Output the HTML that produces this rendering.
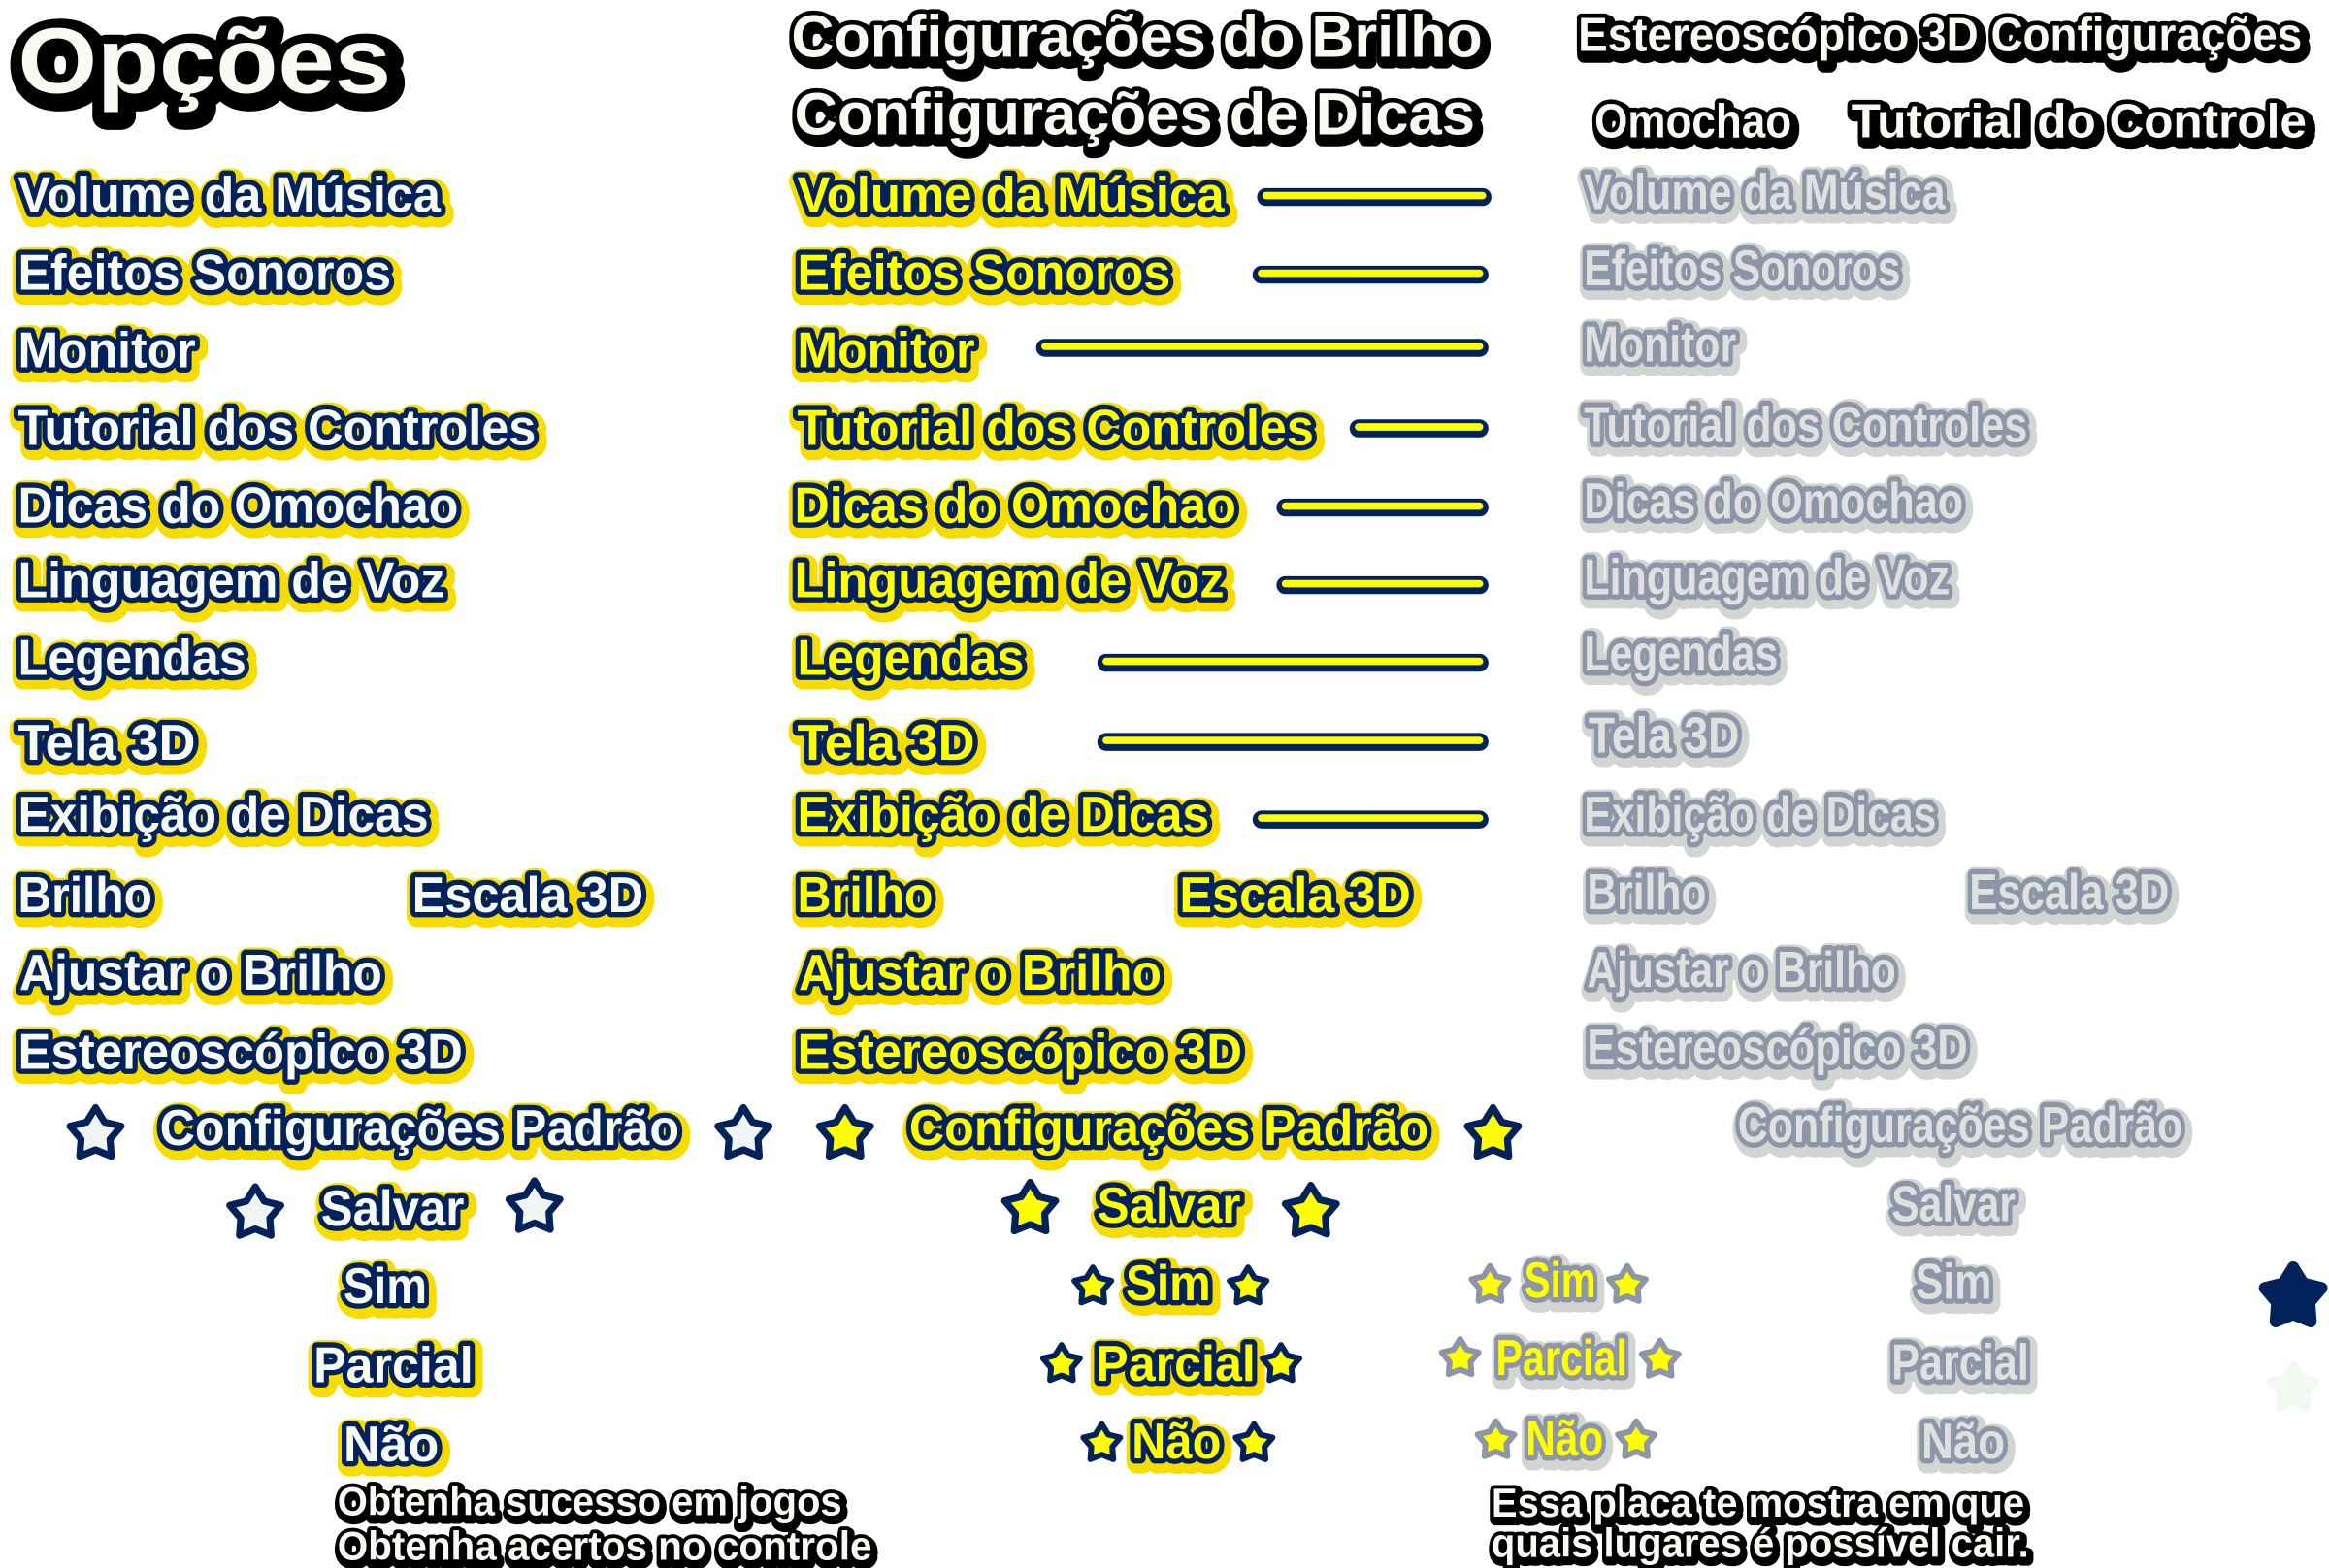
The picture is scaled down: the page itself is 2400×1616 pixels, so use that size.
<!DOCTYPE html>
<html><head><meta charset="utf-8"><style>
html,body{margin:0;padding:0;background:#fff;width:2400px;height:1616px;overflow:hidden}
svg{display:block}
text{font-family:"Liberation Sans",sans-serif;font-weight:bold;stroke-linejoin:round;paint-order:stroke}
.o{stroke-width:15px;transform:translate(1.5px,2.5px)}
.i{stroke-width:7px}
.Y.o,.M.o{fill:#f7dc00;stroke:#f7dc00}
.Y.i{fill:#f7fbf3;stroke:#03215a}
.M.i{fill:#ffff00;stroke:#03215a}
.G.o,.H.o{fill:#d3d5d2;stroke:#d3d5d2}
.G.i{fill:#e0e0e0;stroke:#8d96a8}
.H.i{fill:#ffff00;stroke:#8d96a8}
.K.o{fill:#000;stroke:#000;stroke-width:10px;transform:translate(2px,3px)}
.K.i{fill:#f7fbf3;stroke:#000;stroke-width:6px}
.L{font-size:34px}
.s .o{stroke-width:8px;transform:translate(1px,2px)}
.s .i{stroke-width:5px}
</style></head><body>
<svg width="2400" height="1616" viewBox="0 0 1560 1050.4" xmlns="http://www.w3.org/2000/svg">
<defs>
<path id="st" d="M0,-1 L0.335,-0.46 L0.951,-0.309 L0.54,0.175 L0.588,0.809 L0,0.57 L-0.588,0.809 L-0.54,0.175 L-0.951,-0.309 L-0.335,-0.46 Z"/>
</defs>

<!-- Titles -->
<text class="K o" x="12" y="62" font-size="62" textLength="250" lengthAdjust="spacingAndGlyphs" style="stroke-width:18px">Opções</text>
<text class="K i" x="12" y="62" font-size="62" textLength="250" lengthAdjust="spacingAndGlyphs" style="stroke-width:9px">Opções</text>

<text class="K o" x="530" y="38" font-size="40" textLength="463" lengthAdjust="spacingAndGlyphs">Configurações do Brilho</text>
<text class="K i" x="530" y="38" font-size="40" textLength="463" lengthAdjust="spacingAndGlyphs">Configurações do Brilho</text>
<text class="K o" x="532" y="90" font-size="40" textLength="456" lengthAdjust="spacingAndGlyphs">Configurações de Dicas</text>
<text class="K i" x="532" y="90" font-size="40" textLength="456" lengthAdjust="spacingAndGlyphs">Configurações de Dicas</text>

<text class="K o" x="1057" y="34" font-size="32" textLength="485" lengthAdjust="spacingAndGlyphs">Estereoscópico 3D Configurações</text>
<text class="K i" x="1057" y="34" font-size="32" textLength="485" lengthAdjust="spacingAndGlyphs">Estereoscópico 3D Configurações</text>
<text class="K o" x="1068" y="92" font-size="32" textLength="132" lengthAdjust="spacingAndGlyphs">Omochao</text>
<text class="K i" x="1068" y="92" font-size="32" textLength="132" lengthAdjust="spacingAndGlyphs">Omochao</text>
<text class="K o" x="1240" y="92" font-size="32" textLength="305" lengthAdjust="spacingAndGlyphs">Tutorial do Controle</text>
<text class="K i" x="1240" y="92" font-size="32" textLength="305" lengthAdjust="spacingAndGlyphs">Tutorial do Controle</text>

<!-- Left column -->
<g class="L">
<text class="Y o" x="12" y="142" textLength="283" lengthAdjust="spacingAndGlyphs">Volume da Música</text>
<text class="Y i" x="12" y="142" textLength="283" lengthAdjust="spacingAndGlyphs">Volume da Música</text>
<text class="Y o" x="12" y="194" textLength="250" lengthAdjust="spacingAndGlyphs">Efeitos Sonoros</text>
<text class="Y i" x="12" y="194" textLength="250" lengthAdjust="spacingAndGlyphs">Efeitos Sonoros</text>
<text class="Y o" x="12" y="246" textLength="119" lengthAdjust="spacingAndGlyphs">Monitor</text>
<text class="Y i" x="12" y="246" textLength="119" lengthAdjust="spacingAndGlyphs">Monitor</text>
<text class="Y o" x="12" y="298" textLength="347" lengthAdjust="spacingAndGlyphs">Tutorial dos Controles</text>
<text class="Y i" x="12" y="298" textLength="347" lengthAdjust="spacingAndGlyphs">Tutorial dos Controles</text>
<text class="Y o" x="12" y="350" textLength="295" lengthAdjust="spacingAndGlyphs">Dicas do Omochao</text>
<text class="Y i" x="12" y="350" textLength="295" lengthAdjust="spacingAndGlyphs">Dicas do Omochao</text>
<text class="Y o" x="12" y="400" textLength="286" lengthAdjust="spacingAndGlyphs">Linguagem de Voz</text>
<text class="Y i" x="12" y="400" textLength="286" lengthAdjust="spacingAndGlyphs">Linguagem de Voz</text>
<text class="Y o" x="12" y="452" textLength="153" lengthAdjust="spacingAndGlyphs">Legendas</text>
<text class="Y i" x="12" y="452" textLength="153" lengthAdjust="spacingAndGlyphs">Legendas</text>
<text class="Y o" x="12" y="509" textLength="119" lengthAdjust="spacingAndGlyphs">Tela 3D</text>
<text class="Y i" x="12" y="509" textLength="119" lengthAdjust="spacingAndGlyphs">Tela 3D</text>
<text class="Y o" x="12" y="557" textLength="275" lengthAdjust="spacingAndGlyphs">Exibição de Dicas</text>
<text class="Y i" x="12" y="557" textLength="275" lengthAdjust="spacingAndGlyphs">Exibição de Dicas</text>
<text class="Y o" x="12" y="611" textLength="90" lengthAdjust="spacingAndGlyphs">Brilho</text>
<text class="Y i" x="12" y="611" textLength="90" lengthAdjust="spacingAndGlyphs">Brilho</text>
<text class="Y o" x="276" y="611" textLength="155" lengthAdjust="spacingAndGlyphs">Escala 3D</text>
<text class="Y i" x="276" y="611" textLength="155" lengthAdjust="spacingAndGlyphs">Escala 3D</text>
<text class="Y o" x="13" y="663" textLength="243" lengthAdjust="spacingAndGlyphs">Ajustar o Brilho</text>
<text class="Y i" x="13" y="663" textLength="243" lengthAdjust="spacingAndGlyphs">Ajustar o Brilho</text>
<text class="Y o" x="12" y="716" textLength="298" lengthAdjust="spacingAndGlyphs">Estereoscópico 3D</text>
<text class="Y i" x="12" y="716" textLength="298" lengthAdjust="spacingAndGlyphs">Estereoscópico 3D</text>
<text class="Y o" x="107" y="767" textLength="348" lengthAdjust="spacingAndGlyphs">Configurações Padrão</text>
<text class="Y i" x="107" y="767" textLength="348" lengthAdjust="spacingAndGlyphs">Configurações Padrão</text>
<text class="Y o" x="215" y="821" textLength="96" lengthAdjust="spacingAndGlyphs">Salvar</text>
<text class="Y i" x="215" y="821" textLength="96" lengthAdjust="spacingAndGlyphs">Salvar</text>
<text class="Y o" x="230" y="873" textLength="56" lengthAdjust="spacingAndGlyphs">Sim</text>
<text class="Y i" x="230" y="873" textLength="56" lengthAdjust="spacingAndGlyphs">Sim</text>
<text class="Y o" x="210" y="926" textLength="107" lengthAdjust="spacingAndGlyphs">Parcial</text>
<text class="Y i" x="210" y="926" textLength="107" lengthAdjust="spacingAndGlyphs">Parcial</text>
<text class="Y o" x="230" y="979" textLength="64" lengthAdjust="spacingAndGlyphs">Não</text>
<text class="Y i" x="230" y="979" textLength="64" lengthAdjust="spacingAndGlyphs">Não</text>
</g>
<g fill="#f0f4f2" stroke="#03215a" stroke-width="0.26" stroke-linejoin="round">
<use href="#st" transform="translate(64,760) scale(18)"/>
<use href="#st" transform="translate(498,760) scale(18)"/>
<use href="#st" transform="translate(171,813) scale(18)"/>
<use href="#st" transform="translate(358,809) scale(18)"/>
</g>
<g class="s">
<text class="K o" x="226" y="1015" font-size="27" textLength="338" lengthAdjust="spacingAndGlyphs">Obtenha sucesso em jogos</text>
<text class="K i" x="226" y="1015" font-size="27" textLength="338" lengthAdjust="spacingAndGlyphs">Obtenha sucesso em jogos</text>
<text class="K o" x="226" y="1045" font-size="27" textLength="358" lengthAdjust="spacingAndGlyphs">Obtenha acertos no controle</text>
<text class="K i" x="226" y="1045" font-size="27" textLength="358" lengthAdjust="spacingAndGlyphs">Obtenha acertos no controle</text>
</g>

<!-- Middle column -->
<g class="L">
<text class="M o" x="534" y="142" textLength="286" lengthAdjust="spacingAndGlyphs">Volume da Música</text>
<text class="M i" x="534" y="142" textLength="286" lengthAdjust="spacingAndGlyphs">Volume da Música</text>
<text class="M o" x="534" y="194" textLength="250" lengthAdjust="spacingAndGlyphs">Efeitos Sonoros</text>
<text class="M i" x="534" y="194" textLength="250" lengthAdjust="spacingAndGlyphs">Efeitos Sonoros</text>
<text class="M o" x="534" y="246" textLength="119" lengthAdjust="spacingAndGlyphs">Monitor</text>
<text class="M i" x="534" y="246" textLength="119" lengthAdjust="spacingAndGlyphs">Monitor</text>
<text class="M o" x="534" y="298" textLength="346" lengthAdjust="spacingAndGlyphs">Tutorial dos Controles</text>
<text class="M i" x="534" y="298" textLength="346" lengthAdjust="spacingAndGlyphs">Tutorial dos Controles</text>
<text class="M o" x="532" y="350" textLength="296" lengthAdjust="spacingAndGlyphs">Dicas do Omochao</text>
<text class="M i" x="532" y="350" textLength="296" lengthAdjust="spacingAndGlyphs">Dicas do Omochao</text>
<text class="M o" x="532" y="400" textLength="288" lengthAdjust="spacingAndGlyphs">Linguagem de Voz</text>
<text class="M i" x="532" y="400" textLength="288" lengthAdjust="spacingAndGlyphs">Linguagem de Voz</text>
<text class="M o" x="534" y="452" textLength="152" lengthAdjust="spacingAndGlyphs">Legendas</text>
<text class="M i" x="534" y="452" textLength="152" lengthAdjust="spacingAndGlyphs">Legendas</text>
<text class="M o" x="534" y="509" textLength="119" lengthAdjust="spacingAndGlyphs">Tela 3D</text>
<text class="M i" x="534" y="509" textLength="119" lengthAdjust="spacingAndGlyphs">Tela 3D</text>
<text class="M o" x="534" y="557" textLength="276" lengthAdjust="spacingAndGlyphs">Exibição de Dicas</text>
<text class="M i" x="534" y="557" textLength="276" lengthAdjust="spacingAndGlyphs">Exibição de Dicas</text>
<text class="M o" x="534" y="611" textLength="91" lengthAdjust="spacingAndGlyphs">Brilho</text>
<text class="M i" x="534" y="611" textLength="91" lengthAdjust="spacingAndGlyphs">Brilho</text>
<text class="M o" x="790" y="611" textLength="155" lengthAdjust="spacingAndGlyphs">Escala 3D</text>
<text class="M i" x="790" y="611" textLength="155" lengthAdjust="spacingAndGlyphs">Escala 3D</text>
<text class="M o" x="535" y="663" textLength="243" lengthAdjust="spacingAndGlyphs">Ajustar o Brilho</text>
<text class="M i" x="535" y="663" textLength="243" lengthAdjust="spacingAndGlyphs">Ajustar o Brilho</text>
<text class="M o" x="534" y="716" textLength="298" lengthAdjust="spacingAndGlyphs">Estereoscópico 3D</text>
<text class="M i" x="534" y="716" textLength="298" lengthAdjust="spacingAndGlyphs">Estereoscópico 3D</text>
<text class="M o" x="609" y="767" textLength="348" lengthAdjust="spacingAndGlyphs">Configurações Padrão</text>
<text class="M i" x="609" y="767" textLength="348" lengthAdjust="spacingAndGlyphs">Configurações Padrão</text>
<text class="M o" x="735" y="819" textLength="96" lengthAdjust="spacingAndGlyphs">Salvar</text>
<text class="M i" x="735" y="819" textLength="96" lengthAdjust="spacingAndGlyphs">Salvar</text>
<text class="M o" x="754" y="871" textLength="57" lengthAdjust="spacingAndGlyphs">Sim</text>
<text class="M i" x="754" y="871" textLength="57" lengthAdjust="spacingAndGlyphs">Sim</text>
<text class="M o" x="734" y="925" textLength="107" lengthAdjust="spacingAndGlyphs">Parcial</text>
<text class="M i" x="734" y="925" textLength="107" lengthAdjust="spacingAndGlyphs">Parcial</text>
<text class="M o" x="758" y="977" textLength="60" lengthAdjust="spacingAndGlyphs">Não</text>
<text class="M i" x="758" y="977" textLength="60" lengthAdjust="spacingAndGlyphs">Não</text>
</g>
<!-- bars -->
<g stroke-linecap="round" fill="none">
<g stroke="#03215a" stroke-width="12">
<line x1="848" y1="132" x2="993" y2="132"/>
<line x1="845" y1="184" x2="991" y2="184"/>
<line x1="700" y1="233" x2="991" y2="233"/>
<line x1="910" y1="287" x2="991" y2="287"/>
<line x1="861" y1="340" x2="991" y2="340"/>
<line x1="861" y1="392" x2="991" y2="392"/>
<line x1="741" y1="444" x2="991" y2="444"/>
<line x1="741" y1="497" x2="991" y2="497"/>
<line x1="845" y1="549" x2="991" y2="549"/>
</g>
<g stroke="#ffff00" stroke-width="5">
<line x1="848" y1="131" x2="993" y2="131"/>
<line x1="845" y1="183" x2="991" y2="183"/>
<line x1="700" y1="232" x2="991" y2="232"/>
<line x1="910" y1="286" x2="991" y2="286"/>
<line x1="861" y1="339" x2="991" y2="339"/>
<line x1="861" y1="391" x2="991" y2="391"/>
<line x1="741" y1="443" x2="991" y2="443"/>
<line x1="741" y1="496" x2="991" y2="496"/>
<line x1="845" y1="548" x2="991" y2="548"/>
</g>
</g>
<g fill="#ffff00" stroke="#03215a" stroke-width="0.26" stroke-linejoin="round">
<use href="#st" transform="translate(566,760) scale(18)"/>
<use href="#st" transform="translate(1000,760) scale(18)"/>
<use href="#st" transform="translate(690,810) scale(18)"/>
<use href="#st" transform="translate(878,812) scale(18)"/>
</g>
<g fill="#ffff00" stroke="#03215a" stroke-width="0.3" stroke-linejoin="round">
<use href="#st" transform="translate(732,862) scale(13)"/>
<use href="#st" transform="translate(836,862) scale(13)"/>
<use href="#st" transform="translate(711,914) scale(13)"/>
<use href="#st" transform="translate(858,914) scale(13)"/>
<use href="#st" transform="translate(738,967) scale(13)"/>
<use href="#st" transform="translate(840,967) scale(13)"/>
</g>

<!-- Right gray column -->
<g class="L">
<text class="G o" x="1061" y="140" textLength="242" lengthAdjust="spacingAndGlyphs">Volume da Música</text>
<text class="G i" x="1061" y="140" textLength="242" lengthAdjust="spacingAndGlyphs">Volume da Música</text>
<text class="G o" x="1061" y="191" textLength="212" lengthAdjust="spacingAndGlyphs">Efeitos Sonoros</text>
<text class="G i" x="1061" y="191" textLength="212" lengthAdjust="spacingAndGlyphs">Efeitos Sonoros</text>
<text class="G o" x="1061" y="242" textLength="102" lengthAdjust="spacingAndGlyphs">Monitor</text>
<text class="G i" x="1061" y="242" textLength="102" lengthAdjust="spacingAndGlyphs">Monitor</text>
<text class="G o" x="1061" y="296" textLength="297" lengthAdjust="spacingAndGlyphs">Tutorial dos Controles</text>
<text class="G i" x="1061" y="296" textLength="297" lengthAdjust="spacingAndGlyphs">Tutorial dos Controles</text>
<text class="G o" x="1061" y="347" textLength="254" lengthAdjust="spacingAndGlyphs">Dicas do Omochao</text>
<text class="G i" x="1061" y="347" textLength="254" lengthAdjust="spacingAndGlyphs">Dicas do Omochao</text>
<text class="G o" x="1061" y="398" textLength="245" lengthAdjust="spacingAndGlyphs">Linguagem de Voz</text>
<text class="G i" x="1061" y="398" textLength="245" lengthAdjust="spacingAndGlyphs">Linguagem de Voz</text>
<text class="G o" x="1061" y="449" textLength="130" lengthAdjust="spacingAndGlyphs">Legendas</text>
<text class="G i" x="1061" y="449" textLength="130" lengthAdjust="spacingAndGlyphs">Legendas</text>
<text class="G o" x="1064" y="504" textLength="101" lengthAdjust="spacingAndGlyphs">Tela 3D</text>
<text class="G i" x="1064" y="504" textLength="101" lengthAdjust="spacingAndGlyphs">Tela 3D</text>
<text class="G o" x="1061" y="557" textLength="236" lengthAdjust="spacingAndGlyphs">Exibição de Dicas</text>
<text class="G i" x="1061" y="557" textLength="236" lengthAdjust="spacingAndGlyphs">Exibição de Dicas</text>
<text class="G o" x="1063" y="609" textLength="80" lengthAdjust="spacingAndGlyphs">Brilho</text>
<text class="G i" x="1063" y="609" textLength="80" lengthAdjust="spacingAndGlyphs">Brilho</text>
<text class="G o" x="1319" y="609" textLength="134" lengthAdjust="spacingAndGlyphs">Escala 3D</text>
<text class="G i" x="1319" y="609" textLength="134" lengthAdjust="spacingAndGlyphs">Escala 3D</text>
<text class="G o" x="1063" y="661" textLength="207" lengthAdjust="spacingAndGlyphs">Ajustar o Brilho</text>
<text class="G i" x="1063" y="661" textLength="207" lengthAdjust="spacingAndGlyphs">Ajustar o Brilho</text>
<text class="G o" x="1063" y="713" textLength="255" lengthAdjust="spacingAndGlyphs">Estereoscópico 3D</text>
<text class="G i" x="1063" y="713" textLength="255" lengthAdjust="spacingAndGlyphs">Estereoscópico 3D</text>
<text class="G o" x="1164" y="765" textLength="298" lengthAdjust="spacingAndGlyphs">Configurações Padrão</text>
<text class="G i" x="1164" y="765" textLength="298" lengthAdjust="spacingAndGlyphs">Configurações Padrão</text>
<text class="G o" x="1267" y="818" textLength="83" lengthAdjust="spacingAndGlyphs">Salvar</text>
<text class="G i" x="1267" y="818" textLength="83" lengthAdjust="spacingAndGlyphs">Salvar</text>
<text class="G o" x="1283" y="870" textLength="51" lengthAdjust="spacingAndGlyphs">Sim</text>
<text class="G i" x="1283" y="870" textLength="51" lengthAdjust="spacingAndGlyphs">Sim</text>
<text class="G o" x="1267" y="924" textLength="92" lengthAdjust="spacingAndGlyphs">Parcial</text>
<text class="G i" x="1267" y="924" textLength="92" lengthAdjust="spacingAndGlyphs">Parcial</text>
<text class="G o" x="1287" y="977" textLength="56" lengthAdjust="spacingAndGlyphs">Não</text>
<text class="G i" x="1287" y="977" textLength="56" lengthAdjust="spacingAndGlyphs">Não</text>

<text class="H o" x="1021" y="869" textLength="48" lengthAdjust="spacingAndGlyphs">Sim</text>
<text class="H i" x="1021" y="869" textLength="48" lengthAdjust="spacingAndGlyphs">Sim</text>
<text class="H o" x="1002" y="921" textLength="88" lengthAdjust="spacingAndGlyphs">Parcial</text>
<text class="H i" x="1002" y="921" textLength="88" lengthAdjust="spacingAndGlyphs">Parcial</text>
<text class="H o" x="1022" y="975" textLength="52" lengthAdjust="spacingAndGlyphs">Não</text>
<text class="H i" x="1022" y="975" textLength="52" lengthAdjust="spacingAndGlyphs">Não</text>
</g>
<g fill="#ffff00" stroke="#8d96a8" stroke-width="0.3" stroke-linejoin="round">
<use href="#st" transform="translate(998,861) scale(13)"/>
<use href="#st" transform="translate(1090,861) scale(13)"/>
<use href="#st" transform="translate(978,910) scale(13)"/>
<use href="#st" transform="translate(1112,911) scale(13)"/>
<use href="#st" transform="translate(1002,965) scale(13)"/>
<use href="#st" transform="translate(1096,965) scale(13)"/>
</g>

<g class="s">
<text class="K o" x="999" y="1016" font-size="27" textLength="357" lengthAdjust="spacingAndGlyphs">Essa placa te mostra em que</text>
<text class="K i" x="999" y="1016" font-size="27" textLength="357" lengthAdjust="spacingAndGlyphs">Essa placa te mostra em que</text>
<text class="K o" x="999" y="1043" font-size="27" textLength="360" lengthAdjust="spacingAndGlyphs">quais lugares é possível cair.</text>
<text class="K i" x="999" y="1043" font-size="27" textLength="360" lengthAdjust="spacingAndGlyphs">quais lugares é possível cair.</text>
</g>

<!-- Right stars -->
<use href="#st" transform="translate(1536,869) scale(20)" fill="#03215a" stroke="#03215a" stroke-width="0.4" stroke-linejoin="round"/>
<use href="#st" transform="translate(1536,930) scale(16)" fill="#f3f8f3" stroke="#f3f8f3" stroke-width="0.3" stroke-linejoin="round"/>
</svg>
</body></html>
